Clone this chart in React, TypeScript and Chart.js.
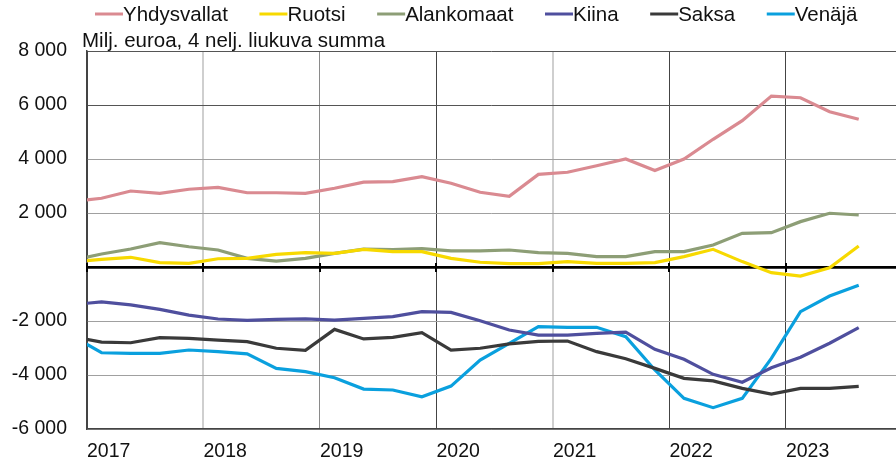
import React, { useEffect, useRef } from "react";
import { Chart, registerables } from "chart.js";

Chart.register(...registerables);

const quarters = [
  "2016Q4",
  "2017Q1", "2017Q2", "2017Q3", "2017Q4",
  "2018Q1", "2018Q2", "2018Q3", "2018Q4",
  "2019Q1", "2019Q2", "2019Q3", "2019Q4",
  "2020Q1", "2020Q2", "2020Q3", "2020Q4",
  "2021Q1", "2021Q2", "2021Q3", "2021Q4",
  "2022Q1", "2022Q2", "2022Q3", "2022Q4",
  "2023Q1", "2023Q2", "2023Q3",
];

const yearLabels = ["2017", "2018", "2019", "2020", "2021", "2022", "2023"];

const seriesNames = ["Yhdysvallat", "Ruotsi", "Alankomaat", "Kiina", "Saksa", "Venäjä"];

const yhdysvallat = [
  2420, 2545, 2815, 2730, 2880, 2950, 2750, 2750, 2730, 2915,
  3140, 3160, 3345, 3100, 2770, 2620, 3430, 3510, 3750, 4000,
  3570, 4000, 4730, 5420, 6330, 6270, 5750, 5470,
];
const ruotsi = [
  185, 285, 360, 160, 135, 305, 320, 470, 530, 505,
  655, 570, 570, 320, 175, 125, 125, 200, 135, 135,
  160, 385, 655, 200, -210, -335, -25, 780,
];
const alankomaat = [
  260, 480, 665, 900, 750, 630, 320, 220, 320, 505,
  665, 640, 680, 595, 595, 630, 530, 505, 385, 385,
  570, 570, 815, 1245, 1270, 1680, 1990, 1925,
];
const kiina = [
  -1390, -1295, -1405, -1570, -1780, -1925, -1975, -1940, -1925, -1965,
  -1900, -1840, -1655, -1680, -1990, -2335, -2520, -2520, -2455, -2410,
  -3050, -3420, -3975, -4270, -3730, -3345, -2825, -2245,
];
const saksa = [
  -2580, -2780, -2805, -2615, -2640, -2705, -2765, -3010, -3085, -2310,
  -2665, -2605, -2430, -3075, -3010, -2850, -2755, -2740, -3135, -3395,
  -3755, -4125, -4220, -4495, -4705, -4495, -4495, -4420,
];
const venaja = [
  -2555, -3175, -3200, -3200, -3075, -3135, -3220, -3755, -3875, -4100,
  -4520, -4555, -4805, -4410, -3445, -2825, -2210, -2235, -2235, -2580,
  -3815, -4865, -5210, -4865, -3385, -1655, -1075, -680,
];

const seriesValues = [yhdysvallat, ruotsi, alankomaat, kiina, saksa, venaja];
const seriesColors = ["#DA8A91", "#F7D900", "#8D9E76", "#4F4F9E", "#3A3A3A", "#0AA0DE"];

const titleText = "Milj. euroa, 4 nelj. liukuva summa";

const Y_MIN = -6000;
const Y_MAX = 8000;
const Y_STEP = 2000;

const FONT = '"Liberation Sans", Arial, sans-serif';

function fmt(v: number): string {
  if (v === 0) return "";
  const s = String(Math.abs(v)).replace(/\B(?=(\d{3})+(?!\d))/g, " ");
  return (v < 0 ? "-" : "") + s;
}

// gridline positions: boundary before each year's first quarter
const yearBoundaries = yearLabels.map((y) => quarters.indexOf(y + "Q1") - 0.5);

const vGridColors = ["#444444", "#cfcfcf", "#8a8a8a", "#444444", "#cfcfcf", "#444444", "#444444"];
const vGridWidths = [1, 2, 1, 1, 2, 1, 1];

const overlayPlugin = {
  id: "overlay",
  beforeDatasetsDraw(chart: any) {
    const { ctx, chartArea, scales } = chart;
    const y0 = scales.y.getPixelForValue(0);
    ctx.save();
    ctx.strokeStyle = "#000";
    ctx.lineWidth = 2;
    yearBoundaries.forEach((b) => {
      const x = Math.round(scales.x.getPixelForValue(b));
      if (x < chartArea.left - 1 || x > chartArea.right) return;
      ctx.beginPath();
      ctx.moveTo(x, y0 - 4);
      ctx.lineTo(x, y0 + 5);
      ctx.stroke();
    });
    ctx.restore();
  },
  afterDraw(chart: any) {
    const { ctx } = chart;
    ctx.save();
    ctx.font = `20.5px ${FONT}`;
    ctx.textBaseline = "alphabetic";
    ctx.textAlign = "left";
    let x = 95;
    chart.data.datasets.forEach((ds: any) => {
      ctx.strokeStyle = ds.borderColor;
      ctx.lineWidth = 3;
      ctx.beginPath();
      ctx.moveTo(x, 14);
      ctx.lineTo(x + 28, 14);
      ctx.stroke();
      ctx.fillStyle = "#111";
      ctx.fillText(ds.label, x + 28, 21);
      x += 28 + ctx.measureText(ds.label).width + 31.6;
    });
    ctx.fillStyle = "#111";
    ctx.fillText(titleText, 82, 47);
    ctx.restore();
  },
};

export default function App() {
  const ref = useRef<HTMLCanvasElement | null>(null);

  useEffect(() => {
    if (!ref.current) return;
    const datasets = seriesNames.map((name, k) => ({
      label: name,
      data: seriesValues[k].map((v, i) => ({ x: i, y: v })),
      borderColor: seriesColors[k],
      backgroundColor: seriesColors[k],
      borderWidth: 3.2,
      pointRadius: 0,
      pointHoverRadius: 0,
      tension: 0,
      fill: false,
      clip: 0,
    }));

    const chart = new Chart(ref.current, {
      type: "line",
      data: { datasets },
      plugins: [overlayPlugin],
      options: {
        responsive: false,
        animation: false,
        devicePixelRatio: 1,
        events: [],
        layout: { padding: { left: 10, top: 51, right: 0, bottom: 0 } },
        plugins: {
          legend: { display: false },
          title: { display: false },
          tooltip: { enabled: false },
        },
        scales: {
          x: {
            type: "linear",
            min: yearBoundaries[0],
            max: quarters.length + 0.28,
            afterBuildTicks: (scale: any) => {
              scale.ticks = yearBoundaries.map((b) => ({ value: b }));
            },
            afterFit: (scale: any) => {
              scale.height = 39;
            },
            ticks: {
              align: "start",
              autoSkip: false,
              maxRotation: 0,
              padding: 11,
              color: "#111",
              font: { family: FONT, size: 19.5 },
              callback: (_v: any, idx: number) => yearLabels[idx],
            },
            grid: {
              drawTicks: false,
              color: (c: any) => vGridColors[c.index] ?? "#888",
              lineWidth: (c: any) => vGridWidths[c.index] ?? 1,
            },
            border: { display: true, color: "#444444", width: 1.5 },
          },
          y: {
            min: Y_MIN,
            max: Y_MAX,
            ticks: {
              stepSize: Y_STEP,
              padding: 20,
              color: "#111",
              font: { family: FONT, size: 19.5 },
              callback: (v: any) => fmt(Number(v)),
            },
            afterFit: (scale: any) => {
              scale.width = 77;
            },
            grid: {
              drawTicks: false,
              color: (c: any) => {
                const v = c.tick?.value;
                if (v === 0) return "#000000";
                if (v === Y_MAX) return "#555555";
                if (v === 6000) return "#555555";
                return "#a0a0a0";
              },
              lineWidth: (c: any) => (c.tick?.value === 0 ? 2.7 : 1),
            },
            border: { display: true, color: "#444444", width: 1.5 },
          },
        },
      },
    } as any);

    return () => chart.destroy();
  }, []);

  return (
    <div style={{ position: "absolute", left: 0, top: 0, width: 896, height: 468, background: "#fff" }}>
      <canvas ref={ref} width={896} height={468} style={{ display: "block", width: 896, height: 468 }} />
    </div>
  );
}
